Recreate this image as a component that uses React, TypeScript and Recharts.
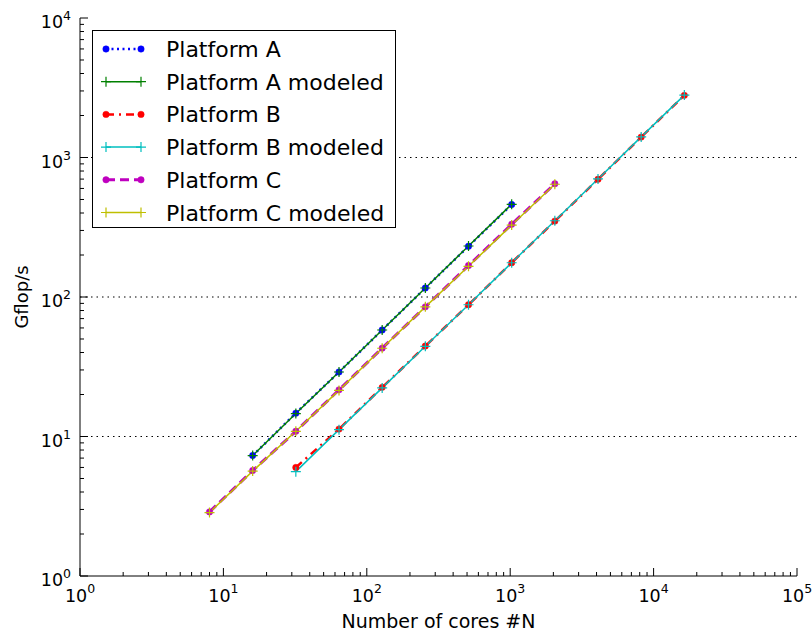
import { LineChart, Line, XAxis, YAxis, ReferenceLine, Legend, Label } from "recharts"

// measured / modeled throughput (Gflop/s) against core count
const coresA = [16, 32, 64, 128, 256, 512, 1024]
const gflopsA = [7.3, 14.7, 29, 58, 116, 231, 460]
const gflopsAModeled = [7.3, 14.6, 29, 58, 116, 232, 462]

const coresB = [32, 64, 128, 256, 512, 1024, 2048, 4096, 8192, 16384]
const gflopsB = [6.0, 11.3, 22.5, 44.5, 88, 176, 350, 698, 1400, 2790]
const gflopsBModeled = [5.6, 11.2, 22.3, 44.3, 88, 176, 352, 702, 1405, 2800]

const coresC = [8, 16, 32, 64, 128, 256, 512, 1024, 2048]
const gflopsC = [2.88, 5.7, 10.9, 21.6, 43, 85, 168, 332, 648]
const gflopsCModeled = [2.85, 5.65, 10.9, 21.4, 42.9, 85, 166, 328, 643]

const xDecades = [1, 10, 100, 1000, 10000, 100000]
const yDecades = [1, 10, 100, 1000, 10000]
const gridValues = [10, 100, 1000]
const minorSteps = [2, 3, 4, 5, 6, 7, 8, 9]

const withMinor = (decades: number[]) => {
  const out: number[] = []
  decades.forEach((d, i) => {
    out.push(d)
    if (i < decades.length - 1) minorSteps.forEach((m) => out.push(d * m))
  })
  return out
}
const xTicks = withMinor(xDecades)
const yTicks = withMinor(yDecades)

const toPoints = (xs: number[], ys: number[]) => xs.map((c, i) => ({ cores: c, gflops: ys[i] }))

const series = [
  { name: "Platform A", data: toPoints(coresA, gflopsA), color: "#0000ff", dash: "2 3.5", width: 2.5, marker: "circle" },
  { name: "Platform A modeled", data: toPoints(coresA, gflopsAModeled), color: "#008000", dash: undefined, width: 1.5, marker: "plus" },
  { name: "Platform B", data: toPoints(coresB, gflopsB), color: "#ff0000", dash: "8 5 2 5", width: 2.5, marker: "circle" },
  { name: "Platform B modeled", data: toPoints(coresB, gflopsBModeled), color: "#00bfbf", dash: undefined, width: 1.5, marker: "plus" },
  { name: "Platform C", data: toPoints(coresC, gflopsC), color: "#bf00bf", dash: "9 5", width: 3, marker: "circle" },
  { name: "Platform C modeled", data: toPoints(coresC, gflopsCModeled), color: "#bfbf00", dash: undefined, width: 1.5, marker: "plus" },
]

const FONT = "DejaVu Sans, Verdana, sans-serif"

function Marker({ cx, cy, color, kind }: { cx: number; cy: number; color: string; kind: string }) {
  if (cx == null || cy == null) return null
  if (kind === "circle") return <circle cx={cx} cy={cy} r={3.2} fill={color} stroke={color} strokeWidth={0.5} />
  return (
    <path
      d={`M${cx - 5},${cy}h10M${cx},${cy - 5}v10`}
      stroke={color}
      strokeWidth={1.2}
      fill="none"
    />
  )
}

function AxisTick(props: any) {
  const { x, y, payload, side } = props
  const v = payload.value as number
  const exp = Math.round(Math.log10(v))
  const major = Math.abs(Math.log10(v) - exp) < 1e-9
  const len = major ? 8 : 4
  let tick
  if (side === "bottom") tick = <line x1={x} y1={y} x2={x} y2={y - len} />
  else if (side === "top") tick = <line x1={x} y1={y} x2={x} y2={y + len} />
  else if (side === "left") tick = <line x1={x} y1={y} x2={x + len} y2={y} />
  else tick = <line x1={x} y1={y} x2={x - len} y2={y} />

  let label = null
  if (major && side === "bottom") {
    label = (
      <text x={x} y={y + 26} textAnchor="middle" fontFamily={FONT} fontSize={17.5} fill="#000">
        <tspan>10</tspan>
        <tspan dy={-9} fontSize={12.5}>{exp}</tspan>
      </text>
    )
  } else if (major && side === "left") {
    label = (
      <text x={x - 9} y={y + 10} textAnchor="end" fontFamily={FONT} fontSize={17.5} fill="#000">
        <tspan>10</tspan>
        <tspan dy={-8} fontSize={12.5}>{exp}</tspan>
      </text>
    )
  }
  return (
    <g stroke="#000" strokeWidth={1}>
      {tick}
      {label && <g stroke="none">{label}</g>}
    </g>
  )
}

function LegendBox() {
  const rowTop = 19
  const rowStep = 32.7
  return (
    <div style={{ width: 304, height: 198, boxSizing: "border-box", border: "1px solid #000", background: "#fff" }}>
      <svg width={302} height={196} style={{ display: "block" }}>
        {series.map((s, i) => {
          const cy = rowTop + i * rowStep - 1
          return (
            <g key={s.name}>
              <line x1={13} y1={cy} x2={48} y2={cy} stroke={s.color} strokeWidth={s.width} strokeDasharray={s.dash} />
              <Marker cx={13} cy={cy} color={s.color} kind={s.marker} />
              <Marker cx={48} cy={cy} color={s.color} kind={s.marker} />
              <text x={73} y={cy + 8} fontFamily={FONT} fontSize={22} fill="#000">
                {s.name}
              </text>
            </g>
          )
        })}
      </svg>
    </div>
  )
}

export default function App() {
  return (
    <div style={{ position: "absolute", left: 0, top: 0, background: "#fff" }}>
      <LineChart width={812} height={631} margin={{ top: 18, right: 15, bottom: 0, left: 0 }}>
        <XAxis
          dataKey="cores"
          type="number"
          scale="log"
          domain={[1, 100000]}
          allowDataOverflow
          ticks={xTicks}
          interval={0}
          height={55}
          tickSize={0}
          tickMargin={0}
          tickLine={false}
          axisLine={{ stroke: "#000", strokeWidth: 1 }}
          tick={(p: any) => <AxisTick {...p} side="bottom" />}
        >
          <Label
            value="Number of cores #N"
            position="insideBottom"
            offset={3}
            style={{ fontFamily: FONT, fontSize: 19, fill: "#000" }}
          />
        </XAxis>
        <XAxis
          xAxisId="top"
          orientation="top"
          dataKey="cores"
          type="number"
          scale="log"
          domain={[1, 100000]}
          allowDataOverflow
          ticks={xTicks}
          interval={0}
          height={0}
          tickSize={0}
          tickMargin={0}
          tickLine={false}
          axisLine={{ stroke: "#000", strokeWidth: 1 }}
          tick={(p: any) => <AxisTick {...p} side="top" />}
        />
        <YAxis
          type="number"
          scale="log"
          domain={[1, 10000]}
          allowDataOverflow
          ticks={yTicks}
          interval={0}
          width={80}
          tickSize={0}
          tickMargin={0}
          tickLine={false}
          axisLine={{ stroke: "#000", strokeWidth: 1 }}
          tick={(p: any) => <AxisTick {...p} side="left" />}
        >
          <Label
            content={(p: any) => {
              const vb = p.viewBox || { x: 0, y: 18, width: 80, height: 558 }
              const cy = vb.y + vb.height / 2
              return (
                <text
                  x={28}
                  y={cy}
                  transform={`rotate(-90, 28, ${cy})`}
                  textAnchor="middle"
                  fontFamily={FONT}
                  fontSize={18}
                  fill="#000"
                >
                  Gflop/s
                </text>
              )
            }}
          />
        </YAxis>
        <YAxis
          yAxisId="right"
          orientation="right"
          type="number"
          scale="log"
          domain={[1, 10000]}
          allowDataOverflow
          ticks={yTicks}
          interval={0}
          width={0}
          tickSize={0}
          tickMargin={0}
          tickLine={false}
          axisLine={{ stroke: "#000", strokeWidth: 1 }}
          tick={(p: any) => <AxisTick {...p} side="right" />}
        />
        {gridValues.map((g) => (
          <ReferenceLine key={g} y={g} stroke="#000" strokeWidth={1.2} strokeDasharray="1.5 4" />
        ))}
        {series.map((s) => (
          <Line
            key={s.name}
            name={s.name}
            data={s.data}
            dataKey="gflops"
            type="linear"
            stroke={s.color}
            strokeWidth={s.width}
            strokeDasharray={s.dash}
            isAnimationActive={false}
            activeDot={false}
            dot={(p: any) => (
              <Marker key={`${s.name}-${p.index}`} cx={p.cx} cy={p.cy} color={s.color} kind={s.marker} />
            )}
          />
        ))}
        <Legend
          layout="vertical"
          align="center"
          verticalAlign="middle"
          wrapperStyle={{ position: "absolute", left: 92, top: 30, width: 304, height: 198 }}
          content={() => <LegendBox />}
        />
      </LineChart>
    </div>
  )
}
